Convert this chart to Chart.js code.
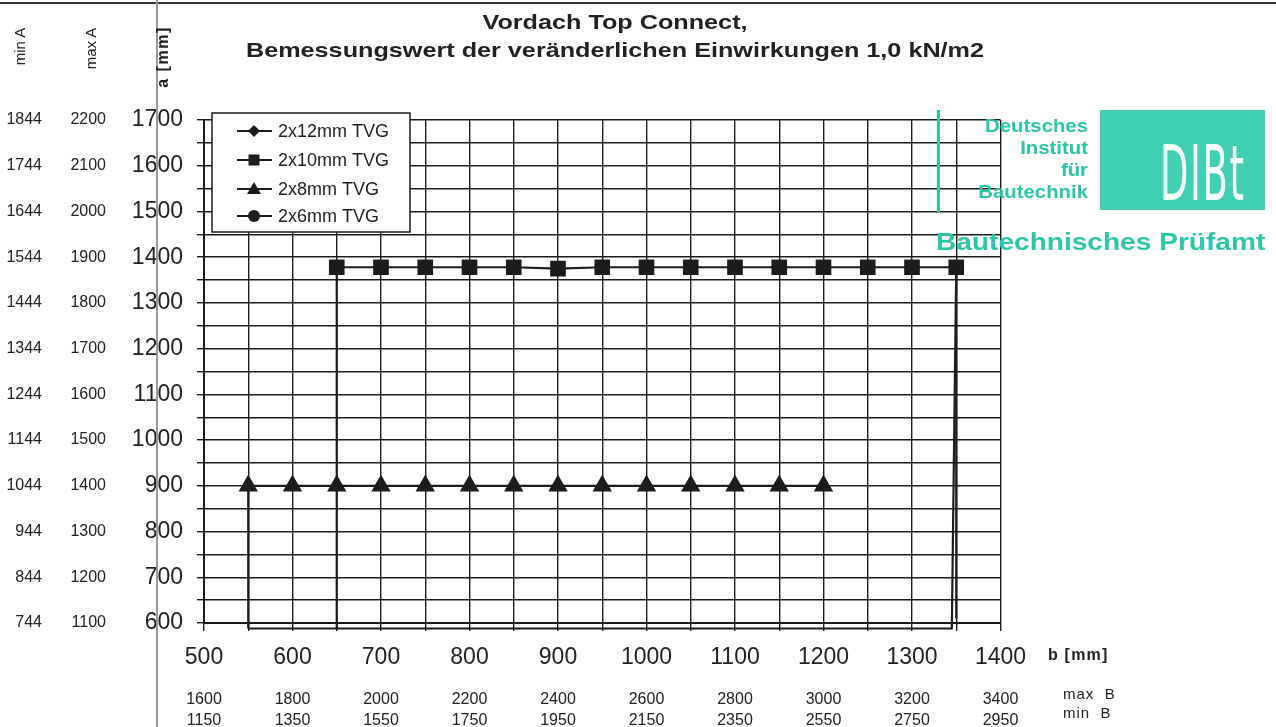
<!DOCTYPE html>
<html>
<head>
<meta charset="utf-8">
<script src="https://cdn.jsdelivr.net/npm/chart.js@4.4.0/dist/chart.umd.min.js"></script>
<style>
  body { margin: 0; background: #fff; font-family: "Liberation Sans", Arial, sans-serif; color: #222; }
  #wrap { position: relative; width: 1276px; height: 727px; overflow: hidden; background: #fff; }
  #wrap canvas { position: absolute; left: 0; top: 0; }
  .t { position: absolute; white-space: nowrap; }
  .rot { transform: rotate(-90deg); transform-origin: center center; }
  .teal { color: #2cc6a8; font-weight: bold; }
  .title { left: 0; width: 1230px; text-align: center; font: bold 21px "Liberation Sans", Arial, sans-serif; transform: scaleX(1.2); transform-origin: 615px 0; }
  #topline { position: absolute; left: 0; top: 2px; width: 1276px; height: 2px; background: #333; }
  #scanline { position: absolute; left: 156px; top: 0; width: 2px; height: 727px; background: #9a9a9a; }
  #stampbar { position: absolute; left: 937px; top: 110px; width: 3px; height: 102px; background: #2cc6a8; }
  #stampbox { position: absolute; left: 1100px; top: 110px; width: 165px; height: 100px; background: #40cfb3; overflow: hidden; }
  #stampbox span { position: absolute; left: 60px; top: 26px; font: 76px/1 "DejaVu Sans Condensed", "Liberation Sans Narrow", sans-serif; color: #f4fffc; transform: scaleX(0.54); transform-origin: left top; letter-spacing: 3px; }
</style>
</head>
<body>
<div id="wrap">
  <canvas id="chart" width="1276" height="727"></canvas>
  <div id="topline"></div>
  <div id="scanline"></div>

  <div class="t title" style="top:10px;">Vordach Top Connect,</div>
  <div class="t title" style="top:38px;">Bemessungswert der veränderlichen Einwirkungen 1,0 kN/m2</div>

  <div class="t rot" style="left:-6px; top:38px; width:50px; text-align:center; font-size:15px;">min A</div>
  <div class="t rot" style="left:65px; top:40px; width:50px; text-align:center; font-size:15px;">max A</div>
  <div class="t rot" style="left:131px; top:48px; width:64px; text-align:center; font: bold 16px 'Liberation Sans', Arial, sans-serif; letter-spacing: 1.5px;">a [mm]</div>

  <div class="t" style="left:1048px; top:646px; font: bold 16px 'Liberation Sans', Arial, sans-serif; letter-spacing: 1.2px;">b [mm]</div>
  <div class="t" style="left:1063px; top:685px; font-size:15px; letter-spacing: 1px;">max&nbsp; B</div>
  <div class="t" style="left:1063px; top:704px; font-size:15px; letter-spacing: 1px;">min&nbsp; B</div>

  <div id="stampbar"></div>
  <div class="t teal" style="left:938px; top:115px; width:150px; text-align:right; font-size:18px; line-height:22px; transform: scaleX(1.13); transform-origin: right top;">Deutsches<br>Institut<br>für<br>Bautechnik</div>
  <div id="stampbox"><span>DIBt</span></div>
  <div class="t teal" style="left:936px; top:228px; font-size:24px; transform: scaleX(1.17); transform-origin: left top;">Bautechnisches Prüfamt</div>
</div>

<script>
// b [mm] axis (bottom) and its two extra label rows
const bTicks = [500, 600, 700, 800, 900, 1000, 1100, 1200, 1300, 1400];
const maxBLabels = ['1600', '1800', '2000', '2200', '2400', '2600', '2800', '3000', '3200', '3400'];
const minBLabels = ['1150', '1350', '1550', '1750', '1950', '2150', '2350', '2550', '2750', '2950'];

// a [mm] axis (left) and its two extra label columns
const aTicks = [1700, 1600, 1500, 1400, 1300, 1200, 1100, 1000, 900, 800, 700, 600];
const maxALabels = ['2200', '2100', '2000', '1900', '1800', '1700', '1600', '1500', '1400', '1300', '1200', '1100'];
const minALabels = ['1844', '1744', '1644', '1544', '1444', '1344', '1244', '1144', '1044', '944', '844', '744'];

// series
const tvg12B = [];
const tvg12A = [];
const tvg10B = [650, 650, 700, 750, 800, 850, 900, 950, 1000, 1050, 1100, 1150, 1200, 1250, 1300, 1350, 1350];
const tvg10A = [588, 1378, 1378, 1378, 1378, 1378, 1375, 1378, 1378, 1378, 1378, 1378, 1378, 1378, 1378, 1378, 610];
const tvg8B = [550, 550, 600, 650, 700, 750, 800, 850, 900, 950, 1000, 1050, 1100, 1150, 1200];
const tvg8A = [588, 900, 900, 900, 900, 900, 900, 900, 900, 900, 900, 900, 900, 900, 900];
const tvg6B = [];
const tvg6A = [];
// closing line along the bottom and up to the last square
const baseB = [550, 1345, 1350];
const baseA = [588, 588, 1378];

const ink = '#1c1c1c';
const font = "'Liberation Sans', Arial, sans-serif";

function pts(xs, ys) {
  return xs.map((x, i) => ({ x: x, y: ys[i] }));
}

// no markers on the first/last point of a polyline that only runs down to the axis
function innerRadius(r, n) {
  return c => (c.dataIndex === 0 || c.dataIndex === n - 1) ? 0 : r;
}

const series = [
  { label: '2x12mm TVG', data: pts(tvg12B, tvg12A), pointStyle: 'rectRot', pointRadius: 8 },
  { label: '2x10mm TVG', data: pts(tvg10B, tvg10A), pointStyle: 'rect', pointRadius: innerRadius(9.5, tvg10B.length) },
  { label: '2x8mm TVG', data: pts(tvg8B, tvg8A), pointStyle: 'triangle', pointRadius: c => c.dataIndex === 0 ? 0 : 9 },
  { label: '2x6mm TVG', data: pts(tvg6B, tvg6A), pointStyle: 'circle', pointRadius: 7 },
  { label: '', data: pts(baseB, baseA), pointRadius: 0 }
].map(s => Object.assign({
  showLine: true,
  borderColor: ink,
  backgroundColor: ink,
  pointBackgroundColor: ink,
  pointBorderColor: ink,
  borderWidth: 2.2,
  tension: 0,
  clip: 14
}, s));

// legend box drawn inside the plot, upper left
const legendBox = {
  id: 'legendBox',
  afterDraw(chart) {
    const ctx = chart.ctx;
    const left = chart.chartArea.left + 8;
    const top = chart.chartArea.top - 7;
    ctx.save();
    ctx.fillStyle = '#fff';
    ctx.fillRect(left, top, 198, 119);
    ctx.strokeStyle = ink;
    ctx.lineWidth = 1.5;
    ctx.strokeRect(left, top, 198, 119);
    const rows = [18, 47, 76, 103];
    for (let i = 0; i < 4; i++) {
      const ds = chart.data.datasets[i];
      const y = top + rows[i];
      ctx.strokeStyle = ink;
      ctx.lineWidth = 2.2;
      ctx.beginPath();
      ctx.moveTo(left + 25, y);
      ctx.lineTo(left + 60, y);
      ctx.stroke();
      ctx.fillStyle = ink;
      const cx = left + 42;
      ctx.beginPath();
      if (ds.pointStyle === 'rectRot') {
        ctx.moveTo(cx, y - 6); ctx.lineTo(cx + 6, y); ctx.lineTo(cx, y + 6); ctx.lineTo(cx - 6, y);
      } else if (ds.pointStyle === 'rect') {
        ctx.rect(cx - 5.5, y - 5.5, 11, 11);
      } else if (ds.pointStyle === 'triangle') {
        ctx.moveTo(cx, y - 7); ctx.lineTo(cx + 7, y + 5); ctx.lineTo(cx - 7, y + 5);
      } else {
        ctx.arc(cx, y, 6, 0, Math.PI * 2);
      }
      ctx.closePath();
      ctx.fill();
      ctx.fillStyle = '#222';
      ctx.font = '18px ' + font;
      ctx.textBaseline = 'middle';
      ctx.fillText(ds.label, left + 66, y + 1);
    }
    ctx.restore();
  }
};

function fixWidth(w) { return s => { s.width = w; }; }
function fixHeight(h) { return s => { s.height = h; }; }

new Chart(document.getElementById('chart'), {
  type: 'scatter',
  data: { datasets: series },
  options: {
    responsive: false,
    animation: false,
    layout: { padding: { left: 0, right: 275.5, top: 120, bottom: 0 } },
    plugins: {
      legend: { display: false },
      tooltip: { enabled: false }
    },
    scales: {
      x: {
        type: 'linear', position: 'bottom', weight: 0,
        min: 500, max: 1400,
        afterFit: fixHeight(52),
        grid: { color: ink, lineWidth: 1.4, tickLength: 8 },
        border: { color: ink, width: 2 },
        ticks: {
          stepSize: 50, autoSkip: false, maxRotation: 0, padding: 13,
          color: '#222', font: { family: font, size: 23 },
          callback: v => { const i = bTicks.indexOf(v); return i < 0 ? '' : String(bTicks[i]); }
        }
      },
      xMax: {
        type: 'linear', axis: 'x', position: 'bottom', weight: 1,
        min: 500, max: 1400,
        afterFit: fixHeight(34),
        grid: { display: false, drawTicks: false },
        border: { display: false },
        ticks: {
          stepSize: 100, autoSkip: false, maxRotation: 0, padding: 15,
          color: '#222', font: { family: font, size: 16 },
          callback: v => { const i = bTicks.indexOf(v); return i < 0 ? '' : maxBLabels[i]; }
        }
      },
      xMin: {
        type: 'linear', axis: 'x', position: 'bottom', weight: 2,
        min: 500, max: 1400,
        afterFit: fixHeight(18),
        grid: { display: false, drawTicks: false },
        border: { display: false },
        ticks: {
          stepSize: 100, autoSkip: false, maxRotation: 0, padding: 2,
          color: '#222', font: { family: font, size: 16 },
          callback: v => { const i = bTicks.indexOf(v); return i < 0 ? '' : minBLabels[i]; }
        }
      },
      y: {
        type: 'linear', position: 'left', weight: 0,
        min: 600, max: 1700,
        afterFit: fixWidth(88),
        grid: { color: ink, lineWidth: 1.4, tickLength: 7 },
        border: { color: ink, width: 2 },
        ticks: {
          stepSize: 50, autoSkip: false, padding: 14,
          color: '#222', font: { family: font, size: 23 },
          callback: v => { const i = aTicks.indexOf(v); return i < 0 ? '' : String(aTicks[i]); }
        }
      },
      yMax: {
        type: 'linear', axis: 'y', position: 'left', weight: 1,
        min: 600, max: 1700,
        afterFit: fixWidth(64),
        grid: { display: false, drawTicks: false },
        border: { display: false },
        ticks: {
          stepSize: 100, autoSkip: false, padding: 10,
          color: '#222', font: { family: font, size: 16 },
          callback: v => { const i = aTicks.indexOf(v); return i < 0 ? '' : maxALabels[i]; }
        }
      },
      yMin: {
        type: 'linear', axis: 'y', position: 'left', weight: 2,
        min: 600, max: 1700,
        afterFit: fixWidth(52),
        grid: { display: false, drawTicks: false },
        border: { display: false },
        ticks: {
          stepSize: 100, autoSkip: false, padding: 10,
          color: '#222', font: { family: font, size: 16 },
          callback: v => { const i = aTicks.indexOf(v); return i < 0 ? '' : minALabels[i]; }
        }
      }
    }
  },
  plugins: [legendBox]
});
</script>
</body>
</html>
